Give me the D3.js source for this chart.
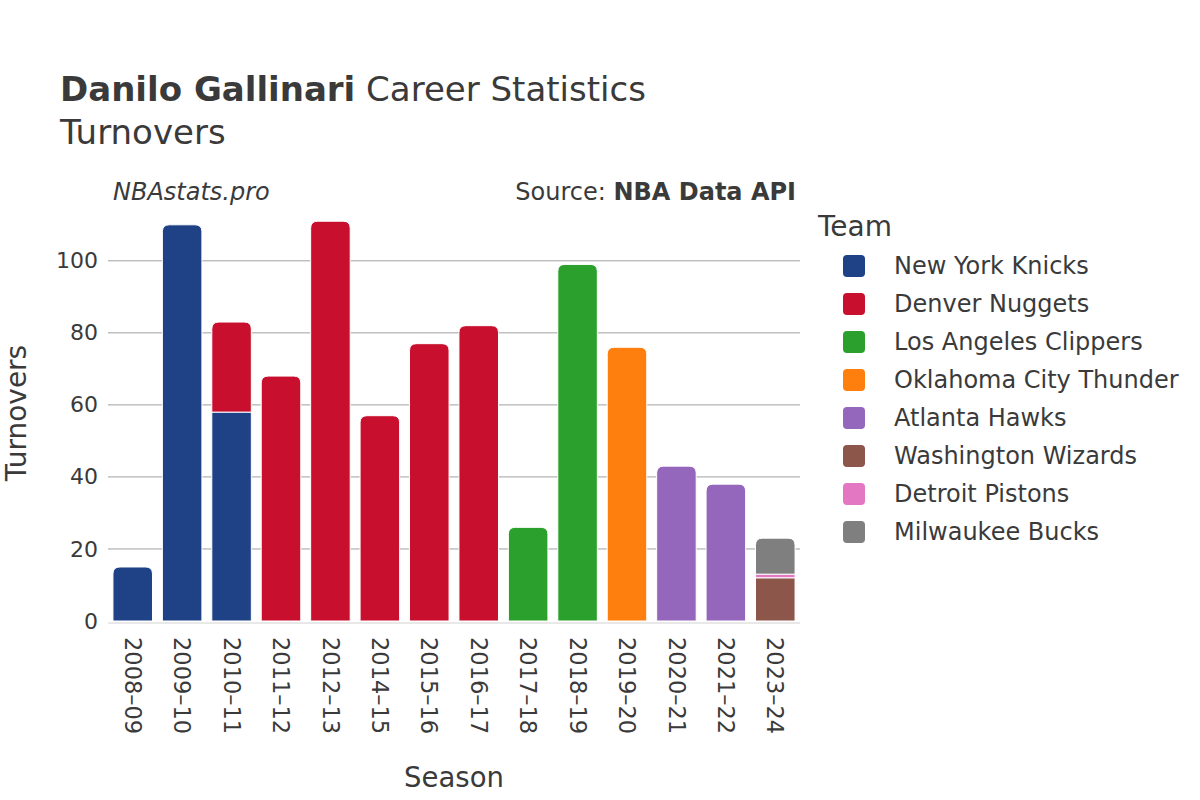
<!DOCTYPE html>
<html>
<head>
<meta charset="utf-8">
<title>Danilo Gallinari Turnovers</title>
<script src="https://d3js.org/d3.v7.min.js"></script>
<style>
	body { margin: 0; background: #fff; }
	text { font-family: "DejaVu Sans", sans-serif; fill: #3a3a3a; }
</style>
</head>
<body>
<svg id="chart" width="1200" height="800"></svg>
<script>
	var seasons = ["2008–09", "2009–10", "2010–11", "2011–12", "2012–13", "2014–15", "2015–16",
		"2016–17", "2017–18", "2018–19", "2019–20", "2020–21", "2021–22", "2023–24"]
	var teams = ["New York Knicks", "Denver Nuggets", "Los Angeles Clippers", "Oklahoma City Thunder",
		"Atlanta Hawks", "Washington Wizards", "Detroit Pistons", "Milwaukee Bucks"]
	var teamColors = ["#1f4287", "#c8102e", "#2ca02c", "#ff7f0e", "#9467bd", "#8c564b", "#e377c2", "#7f7f7f"]
	// turnovers per team, one value per season
	var knicks   = [15, 110, 58, 0, 0, 0, 0, 0, 0, 0, 0, 0, 0, 0]
	var nuggets  = [0, 0, 25, 68, 111, 57, 77, 82, 0, 0, 0, 0, 0, 0]
	var clippers = [0, 0, 0, 0, 0, 0, 0, 0, 26, 99, 0, 0, 0, 0]
	var thunder  = [0, 0, 0, 0, 0, 0, 0, 0, 0, 0, 76, 0, 0, 0]
	var hawks    = [0, 0, 0, 0, 0, 0, 0, 0, 0, 0, 0, 43, 38, 0]
	var wizards  = [0, 0, 0, 0, 0, 0, 0, 0, 0, 0, 0, 0, 0, 12]
	var pistons  = [0, 0, 0, 0, 0, 0, 0, 0, 0, 0, 0, 0, 0, 1]
	var bucks    = [0, 0, 0, 0, 0, 0, 0, 0, 0, 0, 0, 0, 0, 10]
	var yTicks = [0, 20, 40, 60, 80, 100]

	var series = [knicks, nuggets, clippers, thunder, hawks, wizards, pistons, bucks]

	var svg = d3.select("#chart")
	var margin = { left: 108, right: 400, top: 205, bottom: 179 }
	var width = 1200 - margin.left - margin.right
	var height = 800 - margin.top - margin.bottom

	var table = seasons.map(function (s, i) {
		var row = { season: s }
		teams.forEach(function (t, j) { row[t] = series[j][i] })
		return row
	})
	var stacked = d3.stack().keys(teams)(table)

	var x = d3.scaleBand().domain(seasons).range([0, width]).paddingInner(0.2).paddingOuter(0.1)
	var y = d3.scaleLinear().domain([0, 115.5]).range([height, 0])

	var g = svg.append("g").attr("transform", "translate(" + margin.left + "," + margin.top + ")")

	// grid
	g.append("g").selectAll("line").data(yTicks.filter(function (d) { return d > 0 }))
		.enter().append("line")
		.attr("x1", 0).attr("x2", width)
		.attr("y1", function (d) { return y(d) }).attr("y2", function (d) { return y(d) })
		.attr("stroke", "#a0a0a0").attr("stroke-width", 1)
	g.append("line").attr("x1", 0).attr("x2", width).attr("y1", y(0) + 2).attr("y2", y(0) + 2)
		.attr("stroke", "#e8e8e8").attr("stroke-width", 2)

	// topmost nonzero layer per season gets the rounded top
	var topKey = seasons.map(function (s, i) {
		var k = null
		teams.forEach(function (t, j) { if (series[j][i] > 0) k = t })
		return k
	})

	function barPath(x0, y0, w, y1, r) {
		var h = y0 - y1
		r = Math.min(r, h, w / 2)
		return "M" + x0 + "," + y0 + "V" + (y1 + r) + "Q" + x0 + "," + y1 + " " + (x0 + r) + "," + y1 +
			"H" + (x0 + w - r) + "Q" + (x0 + w) + "," + y1 + " " + (x0 + w) + "," + (y1 + r) + "V" + y0 + "Z"
	}

	stacked.forEach(function (layer, j) {
		g.append("g").selectAll("path").data(layer.filter(function (d) { return d[1] - d[0] > 0 }))
			.enter().append("path")
			.attr("fill", teamColors[j])
			.attr("stroke", "#fff").attr("stroke-width", 1)
			.attr("d", function (d) {
				var i = seasons.indexOf(d.data.season)
				var bx = x(d.data.season)
				if (topKey[i] === layer.key) return barPath(bx, y(d[0]), x.bandwidth(), y(d[1]), 7)
				return "M" + bx + "," + y(d[0]) + "V" + y(d[1]) + "H" + (bx + x.bandwidth()) + "V" + y(d[0]) + "Z"
			})
	})

	// axes
	var yAxis = g.append("g").call(d3.axisLeft(y).tickValues(yTicks).tickSize(0).tickPadding(10))
	yAxis.select(".domain").remove()
	yAxis.selectAll("text").style("font-size", "22px").attr("fill", "#3a3a3a")

	var xAxis = g.append("g").attr("transform", "translate(0," + (height + 8) + ")")
		.call(d3.axisBottom(x).tickSize(0))
	xAxis.select(".domain").remove()
	xAxis.selectAll("text").style("font-size", "22.5px").attr("fill", "#3a3a3a")
		.attr("transform", "rotate(90)").attr("text-anchor", "start")
		.attr("x", 8).attr("y", 0).attr("dy", "0.35em")

	// titles
	var title = svg.append("text").attr("x", 60).attr("y", 101).style("font-size", "34px")
	title.append("tspan").text("Danilo Gallinari").style("font-weight", "bold")
	title.append("tspan").text(" Career Statistics")
	svg.append("text").attr("x", 60).attr("y", 144).style("font-size", "34px").text("Turnovers")

	svg.append("text").attr("x", 113).attr("y", 200).style("font-size", "24px").style("font-style", "italic")
		.text("NBAstats.pro")
	var src = svg.append("text").attr("x", 796).attr("y", 200).attr("text-anchor", "end").style("font-size", "24px")
	src.append("tspan").text("Source: ")
	src.append("tspan").text("NBA Data API").style("font-weight", "bold")

	svg.append("text").attr("transform", "translate(26," + (margin.top + height / 2) + ") rotate(-90)")
		.attr("text-anchor", "middle").style("font-size", "28px").text("Turnovers")
	svg.append("text").attr("x", margin.left + width / 2).attr("y", 787).attr("text-anchor", "middle")
		.style("font-size", "27.5px").text("Season")

	// legend
	svg.append("text").attr("x", 818).attr("y", 236).style("font-size", "28px").text("Team")
	var leg = svg.append("g").selectAll("g").data(teams).enter().append("g")
		.attr("transform", function (d, i) { return "translate(843," + (266 + i * 38) + ")" })
	leg.append("rect").attr("x", 0).attr("y", -11).attr("width", 22).attr("height", 22).attr("rx", 4)
		.attr("fill", function (d, i) { return teamColors[i] })
	leg.append("text").attr("x", 51).attr("y", 0).attr("dy", "0.35em").style("font-size", "24px")
		.text(function (d) { return d })
</script>
</body>
</html>
